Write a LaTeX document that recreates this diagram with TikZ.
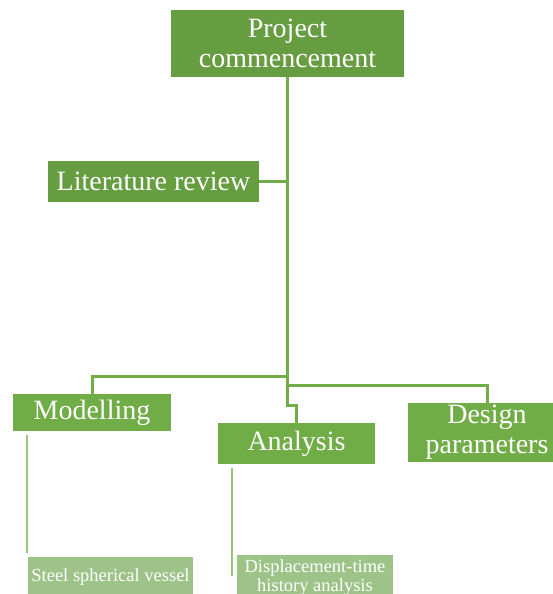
\documentclass[tikz,border=0pt]{standalone}
\usepackage{fontspec}
\setmainfont{Liberation Serif}
\usetikzlibrary{calc}
\definecolor{G0}{RGB}{101,157, 64}
\definecolor{G1}{RGB}{112,173, 71}
\definecolor{G2}{RGB}{157,195,137}
\definecolor{G3}{RGB}{150,198,122}

\begin{document}
\begin{tikzpicture}[x=1pt, y=-1pt,
    box/.style={fill=#1, text=white, inner sep=0pt, align=center,
        font=\fontsize{28}{30}\selectfont},
    subbox/.style={fill=G2, text=white, inner sep=0pt, align=center,
        font=\fontsize{18.5}{19.5}\selectfont},
    link/.style={G1, line width=3pt},
    sublink/.style={G3, line width=2pt}]
    %% page
    \useasboundingbox (0,0) rectangle (553,594);
    \clip (0,0) rectangle (553,594);
    %% top level
    \node[box=G0, minimum width=233, minimum height=67] (proj) at (287.5,43.5)
        {Project\\commencement};
    \node[box=G0, minimum width=211, minimum height=41] (lit) at (153.5,181.5)
        {Literature review};
    %% second level
    \node[box=G1, minimum width=158, minimum height=37] (model) at (92,412.5)
        {Modelling};
    \node[box=G1, minimum width=157, minimum height=41] (anal) at (296.5,443.5)
        {Analysis};
    \node[box=G1, minimum width=158, minimum height=59] (design) at (487,432.5)
        {Design\\parameters};
    %% third level
    \node[subbox, minimum width=165, minimum height=41] (steel) at (110.5,577.5)
        {Steel spherical vessel};
    \node[subbox, minimum width=156, minimum height=45] (disp) at (315,577.5)
        {Displacement-time\\history analysis};
    %% connectors (y grows downwards here)
    \draw[link] (lit.east) -- (lit.east -| proj.south);
    \draw[link] (proj.south) ++(0,299) -| (model.north);
    \draw[link] (proj.south) ++(0,308) -| (design.north);
    \draw[link] (proj.south) -- ++(0,328) -| (anal.north);
    \draw[sublink] ([xshift=14,yshift=-4]model.south west) -- ++(0,118);
    \draw[sublink] ([xshift=14,yshift=-4]anal.south west) -- ++(0,108);
\end{tikzpicture}
\end{document}
